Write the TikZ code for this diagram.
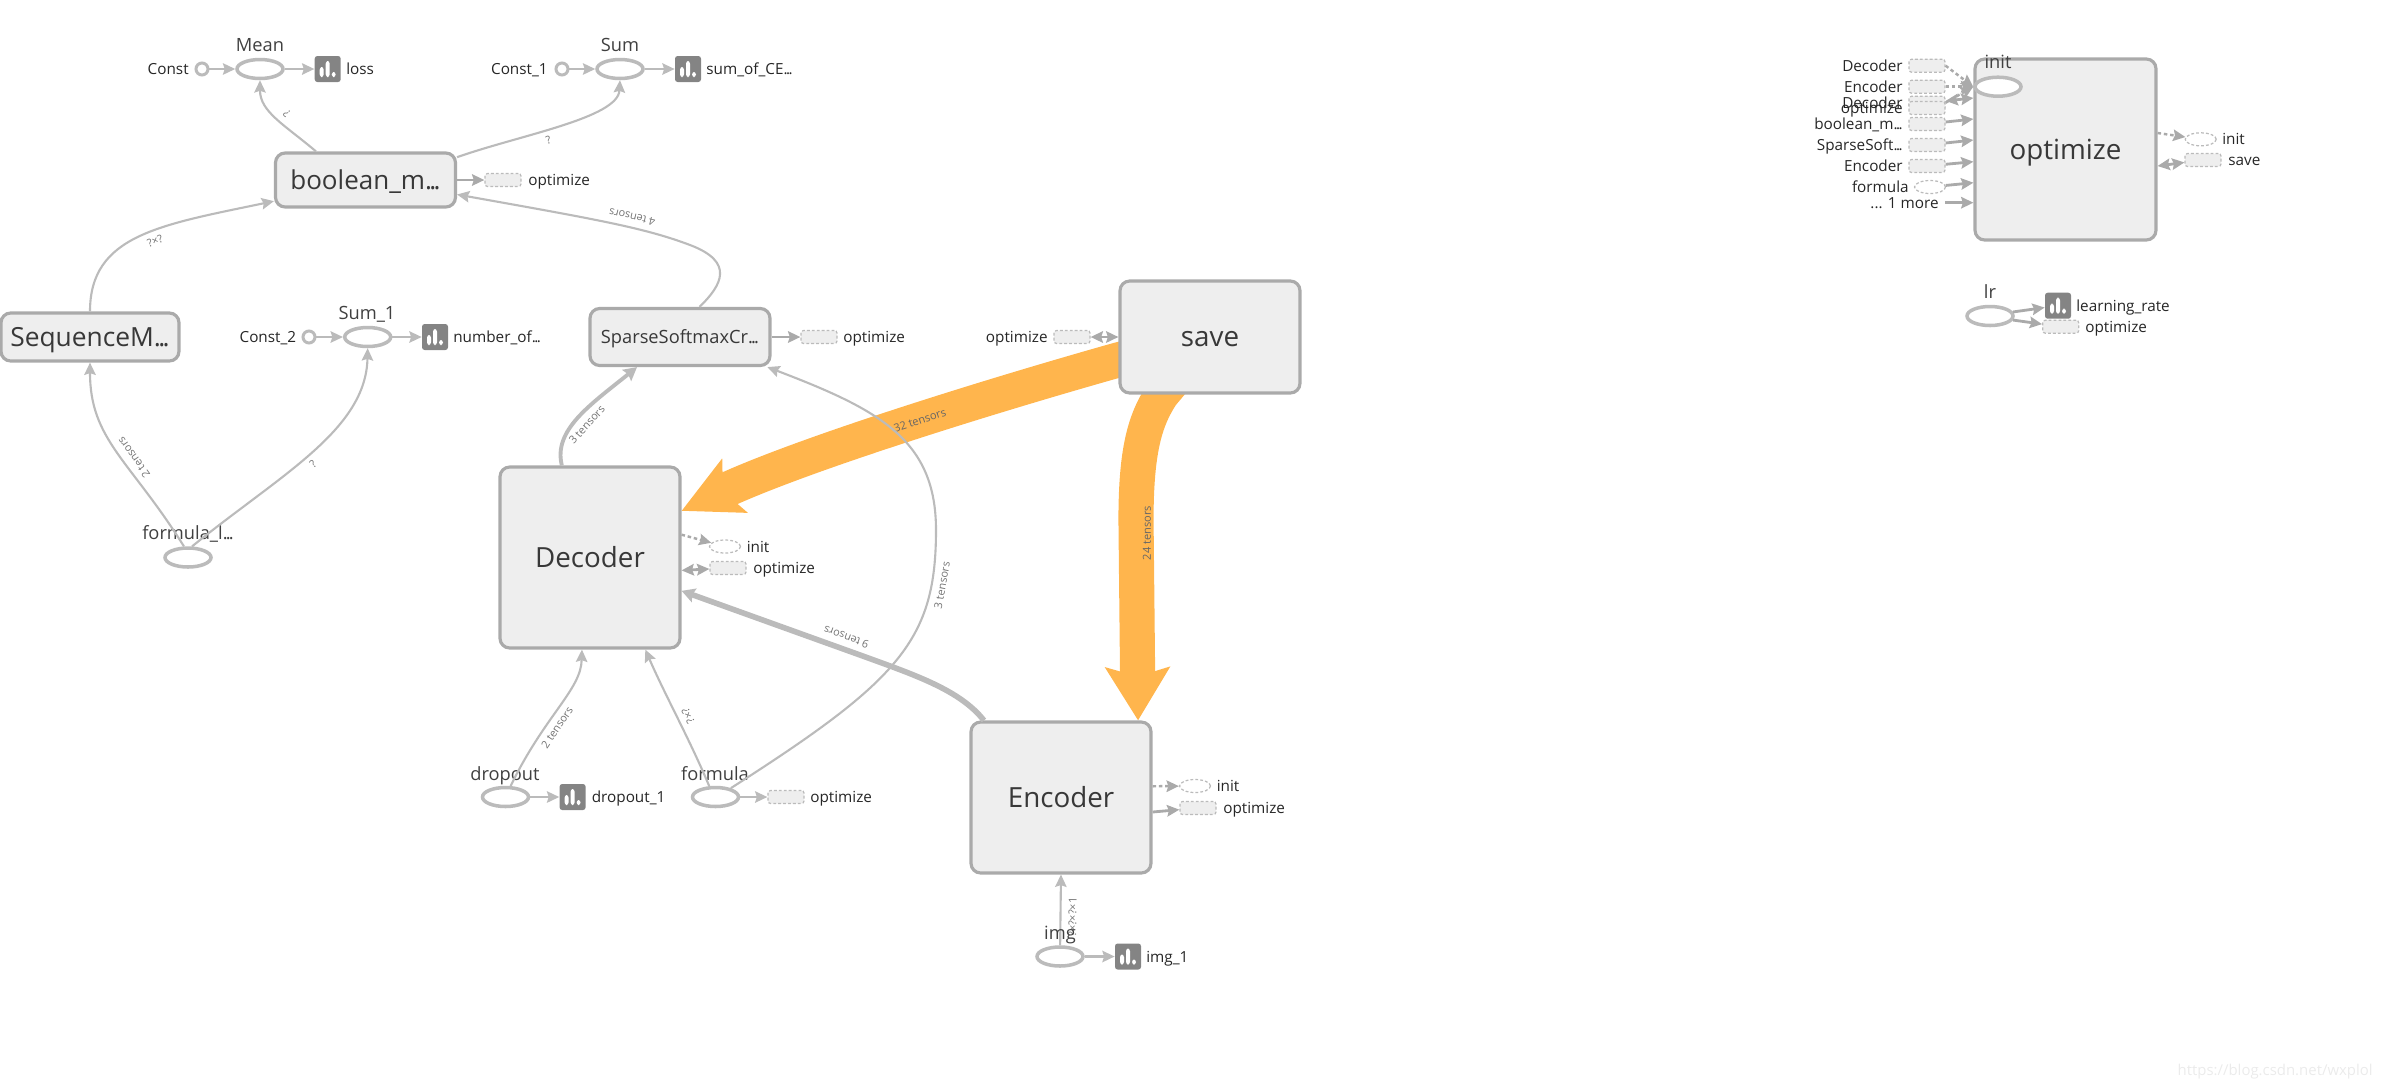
\documentclass[tikz,border=0pt]{standalone}
\usepackage{fontspec}
\setmainfont{Open Sans}
\usetikzlibrary{arrows.meta,shapes.geometric,backgrounds}
\definecolor{edgegray}{HTML}{BBBBBB}
\definecolor{linegray}{HTML}{AAAAAA}
\definecolor{boxfill}{HTML}{EEEEEE}
\definecolor{flow}{HTML}{FFB54D}
\definecolor{icongray}{HTML}{848484}
\newcommand{\cutoff}{.\kern-.1em.\kern-.1em.}

\begin{document}
\begin{tikzpicture}[
    x=0.02cm, y=-0.02cm,
    group/.style={draw=linegray, fill=boxfill, line width=1.8pt, rounded corners=5.5pt, inner sep=0pt, text=black!78, text height=11.1pt, text depth=0pt, font=\fontsize{15.8}{18}\selectfont},
    op/.style={draw=linegray!80, ellipse, fill=white, line width=2pt, minimum width=46*0.02cm, minimum height=19*0.02cm, inner sep=0pt},
    const/.style={draw=linegray!80, circle, fill=white, line width=1.7pt, minimum size=12*0.02cm, inner sep=0pt},
    bridge/.style={draw=edgegray, fill=boxfill, line width=.7pt, dash pattern=on 1.6pt off 1.2pt, rounded corners=1.5pt, minimum width=36*0.02cm, minimum height=13*0.02cm, inner sep=0pt},
    bridgeop/.style={draw=edgegray, fill=white, ellipse, line width=.7pt, dash pattern=on 1.6pt off 1.2pt, minimum width=31*0.02cm, minimum height=13*0.02cm, inner sep=0pt},
    summary/.style={fill=icongray, rounded corners=1.5pt, minimum size=26*0.02cm, inner sep=0pt, path picture={
        \fill[white] ([shift={(-8,8)}]path picture bounding box.center) rectangle ([shift={(-4,-2)}]path picture bounding box.center);
        \fill[white] ([shift={(-2,8)}]path picture bounding box.center) rectangle ([shift={(2,-8)}]path picture bounding box.center);
        \fill[white] ([shift={(4,8)}]path picture bounding box.center) rectangle ([shift={(8,3)}]path picture bounding box.center);}},
    opname/.style={font=\fontsize{10.4}{12}\selectfont, text=black!75, inner sep=0pt, text height=7.6pt, text depth=0pt},
    small/.style={font=\fontsize{8.7}{10}\selectfont, text=black!85, inner sep=0pt, text height=6.4pt, text depth=0pt},
    arr/.style={-{Stealth[length=7pt,width=6.5pt,inset=1pt]}, edgegray, line width=1.2pt},
    port/.style={-{Stealth[length=7pt,width=6.5pt,inset=1pt]}, linegray, line width=1.6pt},
    dport/.style={-{Stealth[length=7pt,width=6.5pt,inset=1pt]}, linegray, line width=1.4pt, dash pattern=on 2pt off 1.6pt},
    bport/.style={{Stealth[length=7pt,width=6.5pt,inset=1pt]}-{Stealth[length=7pt,width=6.5pt,inset=1pt]}, linegray, line width=1.6pt},
    lbl/.style={font=\fontsize{6.2}{7}\selectfont, text=black!55, sloped, allow upside down, below=3pt, inner sep=0pt}
]
\useasboundingbox (0,0) rectangle (2381,1090);

% groups
\node[group, minimum width=3.6cm, minimum height=1.08cm, font=\fontsize{14.8}{18}\selectfont] (boolean) at (365.5,180) {boolean\_m\cutoff};
\node[group, minimum width=3.56cm, minimum height=.96cm, font=\fontsize{15}{18}\selectfont] (sequence) at (90,337) {SequenceM\cutoff};
\node[group, minimum width=3.6cm, minimum height=1.14cm, font=\fontsize{10.4}{12}\selectfont, text height=7.6pt] (sparse) at (680,337) {SparseSoftmaxCr\cutoff};
\node[group, minimum width=3.6cm, minimum height=3.62cm] (decoder) at (590,557.5) {Decoder};
\node[group, minimum width=3.6cm, minimum height=3.02cm] (encoder) at (1061,797.5) {Encoder};
\node[group, minimum width=3.6cm, minimum height=2.24cm] (save) at (1210,337) {save};
\node[group, minimum width=3.62cm, minimum height=3.62cm] (optimize) at (2065.5,149.5) {optimize};

% top row
\node[const] (const) at (202,69) {};
\node[op] (mean) at (260,69) {};
\node[summary] (loss) at (327.7,69) {};
\node[const] (const1) at (562,69) {};
\node[op] (sum) at (620,69) {};
\node[summary] (sumce) at (688,69) {};
\node[const] (const2) at (309,337) {};
\node[op] (sum1) at (367.7,337) {};
\node[summary] (numof) at (435,337) {};
\node[op] (formulal) at (188,557.5) {};

\node[opname] (tmean) at (260,45) {Mean};
\node[opname] (tsum) at (620,45) {Sum};
\node[opname] (tsum1) at (367,313) {Sum\_1};
\node[opname] (tformulal) at (188,533) {formula\_l\cutoff};
\node[small, anchor=east] (tconst) at (189,69) {Const};
\node[small, anchor=east] (tconst1) at (548,69) {Const\_1};
\node[small, anchor=east] (tconst2) at (296.5,337) {Const\_2};
\node[small, anchor=west] (tloss) at (346,69) {loss};
\node[small, anchor=west] (tsumce) at (706,69) {sum\_of\_CE\cutoff};
\node[small, anchor=west] (tnumof) at (453,337) {number\_of\cutoff};

% optimize stubs on the main graph
\node[bridge] (bool_opt) at (503,180) {};
\node[small, anchor=west] (tbool_opt) at (528,180) {optimize};
\node[bridge] (sparse_opt) at (819,337) {};
\node[small, anchor=west] (tsparse_opt) at (843,337) {optimize};
\node[bridge] (save_opt) at (1072,337) {};
\node[small, anchor=east] (tsave_opt) at (1048,337) {optimize};
\node[bridgeop] (dec_init) at (725,546.5) {};
\node[small, anchor=west] (tdec_init) at (746.5,546.5) {init};
\node[bridge] (dec_opt) at (728,568) {};
\node[small, anchor=west] (tdec_opt) at (753,568) {optimize};
\node[bridgeop] (enc_init) at (1195,786) {};
\node[small, anchor=west] (tenc_init) at (1216.5,786) {init};
\node[bridge] (enc_opt) at (1198,808) {};
\node[small, anchor=west] (tenc_opt) at (1223,808) {optimize};

% inputs
\node[op] (dropout) at (505.5,797) {};
\node[opname] (tdropout) at (505,774) {dropout};
\node[summary] (dropout1) at (572.6,797) {};
\node[small, anchor=west] (tdropout1) at (591.5,797) {dropout\_1};
\node[op] (formula) at (715.5,797) {};
\node[opname] (tformula) at (715,774) {formula};
\node[bridge] (form_opt) at (786,797) {};
\node[small, anchor=west] (tform_opt) at (810,797) {optimize};
\node[op] (img) at (1060,956.5) {};
\node[summary] (img1) at (1128,956.5) {};
\node[small, anchor=west] (timg1) at (1146,956.5) {img\_1};

% thin edges
\draw[arr] (const) -- (mean);
\draw[arr] (mean) -- (loss);
\draw[arr] (const1) -- (sum);
\draw[arr] (sum) -- (sumce);
\draw[arr] (const2) -- (sum1);
\draw[arr] (sum1) -- (numof);
\draw[arr] (dropout) -- (dropout1);
\draw[arr] (formula) -- (form_opt);
\draw[arr] (img) -- (img1);
\draw[arr] (boolean.150) .. controls (285,125) and (260,112) .. node[lbl, pos=.45] {?} (mean.south);
\draw[arr] (boolean.14) .. controls (520,135) and (618,118) .. node[lbl, pos=.42] {?} (sum.south);
\draw[arr] (sequence.north) .. controls (90,235) and (160,225) .. node[lbl, pos=.56] {?×?} (boolean.193);
\draw[arr] (sparse.57) .. controls (722,285) and (735,262) .. (690,245) .. controls (645,228) and (600,220) .. node[lbl, pos=.4] {4 tensors} (boolean.-9);
\draw[arr] (formulal.110) .. controls (130,460) and (90,440) .. node[lbl, pos=.42] {2 tensors} (sequence.south);
\draw[arr] (formulal.70) .. controls (280,475) and (366,430) .. node[lbl, pos=.47] {?} (sum1.south);
\draw[arr] (dropout.65) .. controls (545,715) and (581,690) .. node[lbl, pos=.38] {2 tensors} (decoder.265);
\draw[arr] (formula.120) .. controls (690,740) and (665,695) .. node[lbl, pos=.48] {?×?} (decoder.-59);
\draw[arr] (formula.30) .. controls (900,680) and (936,640) .. node[lbl, pos=.82] {3 tensors} (936,530) .. controls (936,440) and (880,410) .. (sparse.-19);
\draw[arr] (img) -- node[lbl, pos=.4, yshift=-1pt] {?×?×?×1} (encoder.south);

% thicker edges
\draw[arr, line width=2.2pt, -{Stealth[length=7.5pt,width=8pt,inset=1pt]}] (decoder.107) .. controls (553,430) and (590,405) .. node[lbl, pos=.5] {3 tensors} (sparse.-145);
\draw[arr, line width=3.2pt, -{Stealth[length=7.5pt,width=8pt,inset=1pt]}] (encoder.135) .. controls (960,690) and (915,675) .. (860,655) -- node[lbl, pos=.1] {9 tensors} (decoder.-20);

% stubs
\draw[port] (boolean) -- (bool_opt);
\draw[port] (sparse) -- (sparse_opt);
\draw[bport] (save) -- (save_opt);
\draw[dport] (decoder.14) -- (dec_init);
\draw[bport] (decoder.-8) -- (dec_opt);
\draw[dport] (encoder.7) -- (enc_init);
\draw[port] (encoder.-9) -- (enc_opt);

% heavy flows, under the boxes
\begin{scope}[on background layer]
\draw[flow, line width=20pt, -{Stealth[length=33pt,width=33pt,inset=7pt]}] (save.center) -- (save.194) .. controls (990,396) and (800,455) .. node[pos=.45, sloped, font=\fontsize{6.3}{7}\selectfont, text=black!60, inner sep=0pt] {32 tensors} (decoder.27);
\draw[flow, line width=20pt, -{Stealth[length=30pt,width=36pt,inset=5pt]}] (save.center) -- (save.230) .. controls (1145,420) and (1136,450) .. (1136,520) -- (encoder.45);
\end{scope}
\node[font=\fontsize{6.3}{7}\selectfont, text=black!60, inner sep=0pt, rotate=90] (l24) at (1147,533) {24 tensors};

% optimize group on the right
\node[op] (init) at (1998,86.7) {};
\node[opname] (tinit) at (1998,62) {init};
\node[bridge] (i_dec) at (1927,65.7) {};
\node[small, anchor=east] (ti_dec) at (1903,65.7) {Decoder};
\node[bridge] (i_enc) at (1927,86.7) {};
\node[small, anchor=east] (ti_enc) at (1903,86.7) {Encoder};
\node[bridge] (i_dec2) at (1927,102.7) {};
\node[small, anchor=east] (ti_dec2) at (1903,102.7) {Decoder};
\node[bridge] (i_optm) at (1927,108) {};
\node[small, anchor=east] (ti_optm) at (1903,108) {optimize};
\node[bridge] (i_bool) at (1927,124) {};
\node[small, anchor=east] (ti_bool) at (1903,124) {boolean\_m\cutoff};
\node[bridge] (i_sparse) at (1927,145) {};
\node[small, anchor=east] (ti_sparse) at (1903,145) {SparseSoft\cutoff};
\node[bridge] (i_enc2) at (1927,166) {};
\node[small, anchor=east] (ti_enc2) at (1903,166) {Encoder};
\node[bridgeop] (i_form) at (1930,187) {};
\node[small, anchor=east] (ti_form) at (1909,187) {formula};
\coordinate (i_more) at (1945,202.7);
\node[small, anchor=east] (ti_more) at (1939,202.7) {... 1 more};
\node[bridgeop] (o_init) at (2200.7,139.3) {};
\node[small, anchor=west] (to_init) at (2222,139.3) {init};
\node[bridge] (o_save) at (2203,160) {};
\node[small, anchor=west] (to_save) at (2228,160) {save};

\draw[dport] (i_dec.east) -- (init.west);
\draw[dport] (i_enc) -- (init.west);
\draw[dport] (i_dec2.east) -- (init.west);
\draw[bport] (i_optm.north east) -- (optimize.west |- 0,98);
\draw[port] (i_bool) -- (optimize.west |- 0,119);
\draw[port] (i_sparse) -- (optimize.west |- 0,140);
\draw[port] (i_enc2) -- (optimize.west |- 0,161.7);
\draw[port] (i_form) -- (optimize.west |- 0,182.7);
\draw[port] (i_more) -- (optimize.west |- 0,202.7);
\draw[dport] (optimize.east |- 0,133) -- (o_init);
\draw[bport] (optimize.east |- 0,166) -- (o_save);

% lr
\node[op] (lr) at (1990,316) {};
\node[opname] (tlr) at (1990,292) {lr};
\node[summary] (lrate) at (2058,305.7) {};
\node[small, anchor=west] (tlrate) at (2076,305.7) {learning\_rate};
\node[bridge] (lr_opt) at (2060.7,326.7) {};
\node[small, anchor=west] (tlr_opt) at (2085,326.7) {optimize};
\draw[port] (lr.10) -- (lrate);
\draw[port] (lr.-10) -- (lr_opt);

% dropped last so it sits on top of the rest
\node[opname] (timg) at (1060,933) {img};
\node[anchor=east, font=\fontsize{8.5}{10}\selectfont, text=black!8, inner sep=0pt] (mark) at (2373,1072) {https://blog.csdn.net/wxplol};
\end{tikzpicture}
\end{document}
